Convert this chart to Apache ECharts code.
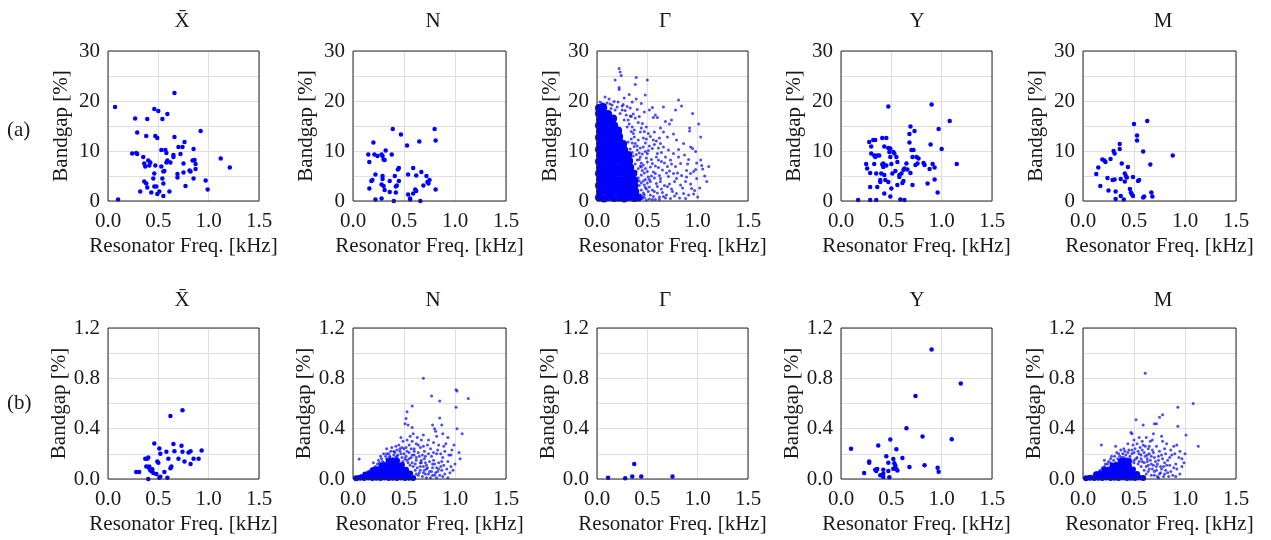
<!DOCTYPE html>
<html>
<head>
<meta charset="utf-8">
<script src="https://cdn.jsdelivr.net/npm/echarts@6/dist/echarts.min.js"></script>
<style>html,body{margin:0;padding:0;background:#fff}#c{width:1271px;height:540px}</style>
</head>
<body>
<div id="c"></div>
<script>
// ---------- labels ----------
const panelTitles = ['X\u0304', 'N', '\u0393', 'Y', 'M'];
const rowLabels = ['(a)', '(b)'];
const xName = 'Resonator Freq. [kHz]';
const yName = 'Bandgap [%]';
const xTickLabels = ['0.0', '0.5', '1.0', '1.5'];
const yTickLabelsA = ['0', '10', '20', '30'];
const yTickLabelsB = ['0.0', '0.4', '0.8', '1.2'];

// ---------- row (a) data: [freq kHz, bandgap %] ----------
const a_Xbar = [[0.07,18.8],[0.10,0.3],[0.27,16.5],[0.29,13.7],[0.24,9.5],[0.28,9.6],[0.29,9.4],[0.39,16.4],[0.38,13.0],[0.46,18.4],[0.50,18.0],[0.47,13.0],[0.49,12.6],[0.54,16.4],[0.59,17.4],[0.66,21.6],[0.66,12.8],[0.92,14.0],[0.35,8.8],[0.36,7.5],[0.37,6.9],[0.40,8.1],[0.42,7.7],[0.41,7.1],[0.47,7.1],[0.46,5.5],[0.45,4.5],[0.36,3.9],[0.38,3.5],[0.39,2.7],[0.32,1.9],[0.43,1.7],[0.46,2.9],[0.48,2.9],[0.49,1.4],[0.51,1.9],[0.55,1.0],[0.61,1.9],[0.55,3.5],[0.54,4.5],[0.55,5.9],[0.56,6.0],[0.53,6.9],[0.53,10.2],[0.57,10.2],[0.58,9.6],[0.59,8.1],[0.58,7.7],[0.62,7.7],[0.65,9.2],[0.65,8.8],[0.70,10.8],[0.74,10.8],[0.76,11.8],[0.72,9.4],[0.69,5.4],[0.69,4.7],[0.75,7.5],[0.75,5.7],[0.77,3.0],[0.82,5.9],[0.81,6.1],[0.85,10.4],[0.84,8.1],[0.86,8.2],[0.87,7.4],[0.87,6.4],[0.85,4.5],[0.97,4.1],[0.99,2.3],[1.12,8.5],[1.21,6.7]];

const a_N = [[0.15,9.3],[0.16,7.8],[0.16,2.5],[0.18,4.0],[0.19,4.2],[0.20,11.7],[0.21,9.3],[0.22,5.3],[0.22,0.3],[0.24,9.0],[0.28,9.3],[0.29,9.0],[0.28,0.5],[0.29,5.0],[0.29,4.4],[0.28,3.3],[0.30,3.0],[0.30,8.3],[0.31,8.2],[0.32,10.1],[0.31,2.2],[0.36,4.0],[0.36,1.8],[0.38,9.3],[0.39,14.4],[0.40,0.0],[0.41,5.0],[0.42,2.9],[0.42,1.7],[0.43,3.1],[0.44,6.3],[0.45,6.6],[0.45,4.0],[0.47,13.3],[0.53,11.1],[0.54,5.3],[0.54,1.3],[0.56,0.5],[0.56,0.3],[0.59,6.6],[0.59,1.5],[0.61,2.3],[0.62,2.0],[0.62,5.1],[0.65,11.9],[0.66,0.0],[0.67,5.8],[0.69,3.1],[0.72,5.0],[0.74,3.5],[0.75,4.2],[0.73,3.8],[0.80,14.4],[0.81,12.1],[0.81,2.3]];

const a_Gamma_core = [[0.02,0.7],[0.07,0.5],[0.12,0.8],[0.17,0.6],[0.22,0.7],[0.27,0.5],[0.32,0.8],[0.37,0.6],[0.41,0.7],
[0.03,1.9],[0.08,2.0],[0.13,1.8],[0.18,2.1],[0.23,1.9],[0.28,1.8],[0.33,2.0],[0.38,1.9],
[0.02,3.1],[0.07,3.2],[0.12,3.0],[0.17,3.1],[0.22,3.3],[0.27,3.0],[0.32,3.2],[0.37,3.1],
[0.03,4.3],[0.08,4.2],[0.13,4.4],[0.18,4.3],[0.23,4.2],[0.28,4.4],[0.33,4.3],[0.37,4.1],
[0.02,5.5],[0.07,5.6],[0.12,5.4],[0.17,5.5],[0.22,5.7],[0.27,5.4],[0.32,5.6],[0.36,5.5],
[0.03,6.7],[0.08,6.6],[0.13,6.8],[0.18,6.7],[0.23,6.6],[0.28,6.8],[0.33,6.7],
[0.02,7.9],[0.07,8.0],[0.12,7.8],[0.17,7.9],[0.22,8.1],[0.27,7.8],[0.32,8.0],
[0.03,9.1],[0.08,9.2],[0.13,9.0],[0.18,9.1],[0.23,9.3],[0.28,9.0],[0.31,9.2],
[0.02,10.3],[0.07,10.4],[0.12,10.2],[0.17,10.3],[0.22,10.5],[0.27,10.2],
[0.03,11.5],[0.08,11.6],[0.13,11.4],[0.18,11.5],[0.23,11.7],[0.26,11.4],
[0.02,12.7],[0.07,12.8],[0.12,12.6],[0.17,12.7],[0.22,12.9],
[0.03,13.9],[0.08,14.0],[0.13,13.8],[0.18,13.9],[0.21,14.1],
[0.02,15.1],[0.07,15.2],[0.12,15.0],[0.17,15.1],
[0.03,16.3],[0.08,16.4],[0.13,16.2],[0.16,16.5],
[0.02,17.5],[0.07,17.6],[0.11,17.4],
[0.02,18.6],[0.06,18.8]];

const a_Gamma = [[0.22,26.5],[0.24,25.1],[0.23,25.8],[0.18,24.2],[0.39,24.7],[0.38,23.3],[0.50,24.2],[0.22,22.7],[0.22,22.3],[0.27,20.6],[0.32,21.3],[0.48,21.2],[0.35,19.8],[0.39,20.4],[0.44,19.5],[0.55,18.7],[0.66,18.8],[0.81,20.2],[0.84,19.0],[0.78,18.2],[0.95,17.5],[1.01,15.4],[1.03,12.8],[0.92,14.6],[0.92,14.0],[0.74,16.2],[0.72,15.4],[0.58,17.2],[0.56,16.7],[0.60,16.7],[0.47,17.8],[0.52,18.2],[0.63,14.6],[0.66,13.8],[0.70,12.8],[0.76,13.4],[0.79,12.2],[0.86,11.5],[0.93,10.8],[0.95,10.5],[1.03,8.2],[1.04,7.1],[1.11,6.9],[1.09,3.9],[0.99,4.5],[0.96,5.9],[0.98,6.3],[0.89,6.1],[0.93,5.5],[0.88,3.9],[0.94,2.5],[0.91,1.2],[0.96,1.4],[0.86,1.5],[0.79,1.5],[0.75,1.9],[0.83,3.2],[0.79,4.5],[0.76,5.5],[0.78,6.9],[0.83,7.5],[0.81,8.8],[0.76,9.5],[0.73,8.2],[0.71,10.2],[0.66,10.8],[0.63,11.5],[0.68,8.8],[0.70,6.9],[0.71,4.9],[0.70,2.9],[0.66,0.9],[0.73,0.5],[0.63,3.9],[0.65,6.2],[0.61,8.2],[0.60,9.5],[0.56,12.2],[0.55,10.5],[0.51,13.5],[0.49,14.8],[0.45,15.5],[0.43,13.8],[0.41,12.2],[0.46,10.8],[0.50,9.5],[0.55,7.5],[0.58,5.5],[0.60,2.9],[0.56,0.9],[0.51,1.9],[0.53,3.9],[0.50,5.9],[0.46,7.2],[0.43,8.8],[0.40,10.2],[0.38,11.5],[0.40,8.2],[0.44,5.2],[0.47,3.2],[0.43,1.2],[0.39,2.9],[0.41,6.5],[0.36,13.5],[0.35,14.8],[0.31,16.2],[0.29,17.2],[0.25,18.2],[0.20,18.8],[0.15,19.2],[0.10,19.6],[0.05,19.5],[0.03,19.8],[0.07,19.0],[0.13,19.4],[0.18,18.2],[0.23,17.5],[0.27,16.2],[0.30,14.8],[0.52,0.4],[0.55,2.2],[0.57,4.6],[0.53,6.8],[0.49,8.6],[0.60,1.6],[0.62,5.1],[0.64,2.4],[0.68,0.6],[0.72,3.4],[0.77,1.0],[0.82,0.6],[0.85,2.6],[0.89,4.8],[0.91,8.3],[0.98,9.9],[1.05,6.4],[0.97,2.1],[1.00,0.8],[0.34,12.4],[0.37,10.9],[0.35,9.7],[0.42,9.6],[0.45,6.1],[0.48,4.3],[0.52,2.8],[0.45,0.5],[0.49,0.2],[0.58,0.3],[0.62,0.8],[0.54,5.0],[0.58,7.0],[0.48,11.6],[0.52,11.0],[0.57,13.8],[0.62,12.6],[0.68,15.9],[0.42,16.9],[0.40,18.3],[0.33,18.6],[0.26,19.3],[0.12,20.4],[0.08,20.8],[0.46,1.6],[0.47,0.7],[0.44,3.6],[0.49,2.4],[0.51,4.8],[0.48,6.5],[0.44,7.6],[0.42,4.0],[0.45,9.4],
[0.31,11.8],[0.33,10.4],[0.36,9.0],[0.38,7.4],[0.39,5.9],[0.41,4.6],[0.42,3.1],[0.44,2.2],[0.45,0.9],[0.47,1.3],[0.48,2.7],[0.46,4.0],[0.44,6.8],[0.42,8.3],[0.40,11.0],[0.37,12.8],[0.34,13.9],[0.32,15.4],[0.35,11.6],[0.39,9.3],[0.43,7.0],[0.47,5.6],[0.50,3.6],[0.53,1.2],[0.55,0.3],[0.57,1.9],[0.59,3.5],[0.56,5.8],[0.54,8.3],[0.51,10.1],[0.49,12.4],[0.47,13.9],[0.44,14.6],[0.41,15.7],[0.38,16.6],[0.36,17.4],[0.34,16.9],[0.30,18.9],[0.28,18.1],[0.53,12.9],[0.57,11.3],[0.59,8.8],[0.61,6.7],[0.63,4.5],[0.65,1.7],[0.67,3.1],[0.69,5.6],[0.67,7.6],[0.64,9.7],[0.61,10.6],[0.59,12.0],[0.64,7.9],[0.62,0.3],[0.69,1.2],[0.74,2.4],[0.72,6.0],[0.74,7.4],[0.77,3.9],[0.80,5.6],[0.84,5.1],[0.81,10.3],[0.87,9.2],[0.90,7.4],[0.88,0.5],[0.93,3.4],[1.02,2.6],[1.07,5.0],[0.99,7.6],[0.46,12.6],[0.43,10.6],[0.50,7.8],[0.52,4.3],[0.48,9.9],[0.37,14.2],[0.33,17.0],[0.25,19.0],[0.21,19.8],[0.17,19.9],[0.14,18.5],[0.09,18.6],[0.04,18.8]];

const a_Y = [[0.17,0.2],[0.25,7.4],[0.26,6.5],[0.28,11.8],[0.29,5.6],[0.29,2.8],[0.29,0.2],[0.30,10.9],[0.30,9.5],[0.32,12.2],[0.34,12.2],[0.33,9.1],[0.34,8.8],[0.33,7.4],[0.35,5.5],[0.35,0.2],[0.36,2.8],[0.36,9.1],[0.38,9.1],[0.39,4.2],[0.39,3.8],[0.40,5.5],[0.41,7.3],[0.42,7.5],[0.41,12.6],[0.43,10.9],[0.42,6.8],[0.43,5.2],[0.44,4.2],[0.43,1.5],[0.45,12.6],[0.45,7.1],[0.47,3.8],[0.47,18.9],[0.47,10.6],[0.48,9.8],[0.49,8.8],[0.49,10.5],[0.50,7.4],[0.49,0.9],[0.50,2.5],[0.51,5.5],[0.52,9.8],[0.53,9.5],[0.54,6.0],[0.55,8.8],[0.56,3.2],[0.56,7.8],[0.58,5.2],[0.58,4.8],[0.59,0.3],[0.60,5.5],[0.61,3.6],[0.62,6.2],[0.62,4.0],[0.63,6.5],[0.63,0.2],[0.65,7.5],[0.66,6.3],[0.68,13.4],[0.68,11.7],[0.69,14.9],[0.69,5.6],[0.70,10.2],[0.71,8.8],[0.71,3.2],[0.72,10.2],[0.73,14.0],[0.74,7.2],[0.75,8.8],[0.76,7.5],[0.77,8.5],[0.82,7.6],[0.83,7.2],[0.86,3.5],[0.88,6.4],[0.89,11.3],[0.90,19.3],[0.91,7.4],[0.93,6.7],[0.93,4.3],[0.96,1.7],[0.97,14.4],[1.00,10.4],[1.08,16.0],[1.15,7.4]];

const a_M = [[0.13,5.4],[0.15,6.7],[0.17,3.0],[0.19,8.3],[0.21,8.1],[0.22,7.8],[0.24,4.6],[0.25,2.1],[0.27,8.4],[0.29,4.2],[0.31,4.3],[0.30,10.0],[0.31,9.5],[0.32,1.9],[0.32,0.4],[0.36,10.4],[0.36,11.4],[0.37,1.0],[0.37,4.4],[0.38,7.5],[0.40,0.3],[0.41,3.9],[0.41,5.5],[0.42,5.0],[0.43,4.7],[0.44,6.8],[0.46,2.4],[0.47,1.7],[0.48,1.3],[0.49,4.8],[0.50,15.4],[0.49,1.0],[0.53,13.1],[0.53,12.1],[0.54,4.0],[0.55,4.2],[0.59,9.9],[0.59,0.7],[0.60,0.9],[0.63,16.0],[0.66,7.3],[0.67,1.7],[0.68,0.9],[0.88,9.1]];

// ---------- row (b) data ----------
const b_Xbar = [[0.28,0.056],[0.31,0.056],[0.37,0.16],[0.39,0.16],[0.40,0.17],[0.38,0.10],[0.41,0.10],[0.41,0.085],[0.42,0.07],[0.43,0.063],[0.44,0.077],[0.40,0.0],[0.45,0.048],[0.46,0.283],[0.48,0.04],[0.49,0.14],[0.50,0.13],[0.51,0.243],[0.52,0.20],[0.51,0.01],[0.52,0.018],[0.56,0.056],[0.58,0.217],[0.59,0.01],[0.60,0.16],[0.62,0.50],[0.62,0.085],[0.63,0.10],[0.65,0.278],[0.66,0.22],[0.70,0.16],[0.73,0.264],[0.74,0.217],[0.74,0.547],[0.76,0.14],[0.80,0.21],[0.82,0.22],[0.82,0.12],[0.85,0.16],[0.90,0.16],[0.93,0.227]];

const b_N_core = [[0.03,0.006],[0.07,0.01],[0.11,0.007],[0.15,0.011],[0.19,0.008],[0.23,0.01],[0.27,0.007],[0.31,0.011],[0.35,0.008],[0.39,0.01],[0.43,0.007],[0.47,0.011],[0.51,0.008],[0.55,0.01],[0.59,0.007],
[0.12,0.036],[0.16,0.041],[0.20,0.039],[0.24,0.043],[0.28,0.039],[0.32,0.042],[0.36,0.040],[0.40,0.044],[0.44,0.039],[0.48,0.042],[0.52,0.040],[0.56,0.043],
[0.20,0.072],[0.24,0.077],[0.28,0.075],[0.32,0.078],[0.36,0.074],[0.40,0.077],[0.44,0.075],[0.48,0.078],[0.52,0.074],
[0.28,0.108],[0.32,0.112],[0.36,0.109],[0.40,0.113],[0.44,0.110],[0.48,0.112],
[0.35,0.143],[0.39,0.148],[0.43,0.144]];

const b_N = [[0.06,0.158],[0.69,0.80],[0.77,0.66],[0.85,0.62],[1.01,0.71],[1.02,0.70],[1.13,0.64],[1.01,0.57],[0.58,0.58],[0.53,0.535],[0.52,0.48],[0.51,0.44],[0.54,0.43],[0.58,0.41],[0.85,0.485],[0.87,0.43],[0.78,0.43],[0.80,0.40],[0.81,0.38],[1.02,0.40],[1.07,0.36],[0.97,0.23],[0.96,0.19],[1.05,0.16],[0.91,0.28],[0.89,0.26],[0.84,0.27],[0.74,0.31],[0.69,0.35],[0.59,0.36],[0.53,0.31],[0.48,0.25],[0.43,0.23],[0.40,0.19],[0.33,0.24],[0.30,0.20],[0.27,0.18],[0.82,0.20],[0.77,0.18],[0.93,0.14],[0.96,0.10],[0.87,0.07],[0.98,0.07],[0.28,0.16],[0.32,0.18],[0.35,0.20],[0.37,0.22],[0.41,0.21],[0.44,0.19],[0.46,0.22],[0.50,0.20],[0.52,0.18],[0.55,0.21],[0.57,0.17],[0.60,0.19],[0.62,0.15],[0.65,0.18],[0.67,0.13],[0.70,0.16],[0.72,0.11],[0.75,0.14],[0.78,0.09],[0.80,0.12],[0.83,0.06],[0.86,0.10],[0.90,0.04],[0.92,0.08],[0.65,0.05],[0.68,0.02],[0.70,0.07],[0.74,0.04],[0.76,0.01],[0.80,0.03],[0.63,0.09],[0.66,0.25],[0.70,0.22],[0.73,0.27],[0.76,0.24],[0.62,0.28],[0.58,0.30],[0.55,0.27],[0.49,0.30],[0.45,0.27],[0.42,0.26],[0.38,0.25],[0.60,0.24],[0.64,0.21],[0.68,0.19],[0.71,0.13],[0.79,0.15],[0.84,0.13],[0.88,0.17],[0.90,0.22],[0.94,0.19],[0.99,0.27],[0.93,0.33],[0.88,0.36],[0.82,0.34],[0.79,0.29],[0.67,0.31],[0.63,0.33],[0.56,0.34],[0.47,0.33],[0.44,0.16],[0.48,0.17],[0.53,0.15],[0.58,0.13],[0.61,0.12],[0.66,0.10],[0.69,0.05],[0.72,0.08],[0.77,0.06],[0.82,0.09],[0.85,0.03],[0.89,0.11],[0.95,0.05],[1.00,0.12],[1.04,0.21],[0.24,0.12],[0.21,0.09],[0.17,0.07],[0.14,0.05],[0.12,0.04],[0.08,0.03],[0.05,0.02],[0.20,0.13],[0.25,0.15],
[0.30,0.13],[0.33,0.16],[0.36,0.17],[0.39,0.16],[0.42,0.17],[0.45,0.15],[0.49,0.14],[0.51,0.16],[0.54,0.13],[0.56,0.11],[0.59,0.10],[0.61,0.07],[0.64,0.03],[0.66,0.07],[0.62,0.04],[0.67,0.15],[0.69,0.10],[0.71,0.04],[0.73,0.09],[0.75,0.06],[0.78,0.12],[0.81,0.05],[0.84,0.08],[0.87,0.14],[0.86,0.20],[0.83,0.23],[0.79,0.21],[0.74,0.20],[0.71,0.18],[0.69,0.26],[0.64,0.27],[0.60,0.22],[0.57,0.24],[0.53,0.22],[0.50,0.24],[0.47,0.20],[0.43,0.18],[0.40,0.22],[0.36,0.18],[0.33,0.20],[0.29,0.14],[0.26,0.13],[0.22,0.10],[0.18,0.08],[0.15,0.06],[0.10,0.03],[0.72,0.01],[0.78,0.03],[0.82,0.01],[0.88,0.02],[0.93,0.01],[0.66,0.13],[0.62,0.17],[0.58,0.19],[0.55,0.16],[0.52,0.25],[0.46,0.24]];

const b_Gamma = [[0.11,0.01],[0.28,0.005],[0.35,0.02],[0.37,0.12],[0.44,0.02],[0.75,0.02]];

const b_Y = [[0.10,0.24],[0.23,0.047],[0.28,0.13],[0.28,0.14],[0.34,0.074],[0.35,0.063],[0.36,0.08],[0.37,0.266],[0.39,0.03],[0.42,0.074],[0.42,0.042],[0.42,0.016],[0.45,0.18],[0.47,0.13],[0.47,0.063],[0.48,0.013],[0.49,0.313],[0.52,0.082],[0.52,0.158],[0.53,0.126],[0.54,0.105],[0.55,0.237],[0.55,0.079],[0.56,0.068],[0.61,0.166],[0.65,0.403],[0.68,0.095],[0.74,0.66],[0.81,0.337],[0.83,0.11],[0.90,1.03],[0.96,0.09],[0.97,0.058],[1.10,0.316],[1.19,0.758]];

const b_M_core = [[0.03,0.006],[0.07,0.009],[0.11,0.007],[0.15,0.01],[0.19,0.008],[0.23,0.011],[0.27,0.007],[0.31,0.01],[0.35,0.008],[0.39,0.011],[0.43,0.007],[0.47,0.01],[0.51,0.008],[0.55,0.011],[0.59,0.007],
[0.13,0.037],[0.17,0.041],[0.21,0.039],[0.25,0.042],[0.29,0.04],[0.33,0.043],[0.37,0.039],[0.41,0.042],[0.45,0.04],[0.49,0.043],[0.53,0.039],
[0.21,0.073],[0.25,0.076],[0.29,0.075],[0.33,0.077],[0.37,0.073],[0.41,0.078],[0.45,0.075],[0.49,0.076],
[0.29,0.108],[0.33,0.111],[0.37,0.109],[0.41,0.112],[0.45,0.11],
[0.37,0.143],[0.41,0.146],[0.45,0.142]];

const b_M = [[0.61,0.84],[1.08,0.60],[0.93,0.57],[0.78,0.51],[0.75,0.49],[0.52,0.47],[0.59,0.43],[0.70,0.44],[0.72,0.44],[0.93,0.42],[1.01,0.35],[0.47,0.37],[0.48,0.36],[0.69,0.36],[0.18,0.27],[0.32,0.26],[1.13,0.26],[0.92,0.27],[0.95,0.22],[0.97,0.16],[0.99,0.13],[0.92,0.08],[0.77,0.34],[0.82,0.28],[0.89,0.26],[0.58,0.30],[0.59,0.27],[0.66,0.30],[0.53,0.28],[0.45,0.23],[0.40,0.24],[0.21,0.15],[0.27,0.16],[0.31,0.18],[0.35,0.2],[0.38,0.17],[0.42,0.19],[0.46,0.18],[0.5,0.21],[0.53,0.17],[0.55,0.2],[0.57,0.16],[0.61,0.18],[0.63,0.14],[0.65,0.2],[0.67,0.12],[0.7,0.17],[0.72,0.1],[0.74,0.15],[0.77,0.08],[0.8,0.13],[0.83,0.05],[0.85,0.11],[0.88,0.03],[0.91,0.12],[0.64,0.06],[0.67,0.03],[0.7,0.06],[0.73,0.02],[0.76,0.05],[0.79,0.02],[0.62,0.1],[0.64,0.24],[0.68,0.23],[0.72,0.26],[0.75,0.22],[0.61,0.26],[0.56,0.25],[0.49,0.27],[0.44,0.28],[0.41,0.22],[0.37,0.23],[0.6,0.21],[0.63,0.19],[0.67,0.18],[0.71,0.14],[0.78,0.16],[0.83,0.15],[0.87,0.19],[0.9,0.2],[0.94,0.17],[0.97,0.1],[0.86,0.23],[0.8,0.24],[0.78,0.3],[0.68,0.31],[0.62,0.33],[0.55,0.33],[0.5,0.31],[0.46,0.16],[0.5,0.15],[0.55,0.14],[0.6,0.13],[0.64,0.11],[0.68,0.08],[0.72,0.07],[0.76,0.1],[0.81,0.07],[0.84,0.02],[0.89,0.09],[0.95,0.04],[1.0,0.2],[0.24,0.12],[0.21,0.1],[0.17,0.07],[0.14,0.05],[0.11,0.04],[0.08,0.02],[0.05,0.015],[0.27,0.13],[0.3,0.15],
[0.32,0.13],[0.34,0.16],[0.38,0.15],[0.4,0.17],[0.43,0.16],[0.47,0.14],[0.5,0.13],[0.52,0.16],[0.54,0.12],[0.57,0.1],[0.58,0.14],[0.6,0.07],[0.62,0.04],[0.65,0.08],[0.66,0.15],[0.69,0.11],[0.7,0.03],[0.73,0.12],[0.75,0.04],[0.77,0.19],[0.79,0.1],[0.82,0.11],[0.85,0.17],[0.81,0.2],[0.74,0.18],[0.69,0.21],[0.65,0.26],[0.58,0.23],[0.54,0.22],[0.51,0.24],[0.48,0.2],[0.44,0.21],[0.39,0.2],[0.36,0.18],[0.33,0.21],[0.28,0.18],[0.25,0.14],[0.22,0.12],[0.19,0.09],[0.16,0.06],[0.13,0.05],[0.74,0.01],[0.8,0.04],[0.86,0.06],[0.91,0.02],[0.63,0.16],[0.57,0.19],[0.48,0.23]];

// ---------- assemble ----------
const panels = [
  {row:0, col:0, sets:[{d:a_Xbar, s:4.5, o:1}]},
  {row:0, col:1, sets:[{d:a_N, s:4.5, o:1}]},
  {row:0, col:2, sets:[{d:a_Gamma_core, s:8, o:1},{d:a_Gamma, s:3, o:0.7}]},
  {row:0, col:3, sets:[{d:a_Y, s:4.5, o:1}]},
  {row:0, col:4, sets:[{d:a_M, s:4.5, o:1}]},
  {row:1, col:0, sets:[{d:b_Xbar, s:4.5, o:1}]},
  {row:1, col:1, sets:[{d:b_N_core, s:6, o:1},{d:b_N, s:3, o:0.7}]},
  {row:1, col:2, sets:[{d:b_Gamma, s:4.5, o:1}]},
  {row:1, col:3, sets:[{d:b_Y, s:4.5, o:1}]},
  {row:1, col:4, sets:[{d:b_M_core, s:6, o:1},{d:b_M, s:3, o:0.7}]}
];
const colPos = [{l:108,w:151,tx:182},{l:353,w:153,tx:433},{l:597,w:151,tx:665},{l:841,w:151,tx:917},{l:1083,w:153,tx:1163}];
const rowPos = [{t:51,h:150,titleTop:6,labelTop:115},{t:328,h:151,titleTop:285,labelTop:388}];
const FONT = "'Liberation Serif','Times New Roman',serif";
const TXT = '#1a1a1a';
const FS = 21;

const grid = [], xAxis = [], yAxis = [], series = [], title = [];
panels.forEach((p, i) => {
  const c = colPos[p.col], r = rowPos[p.row];
  grid.push({left:c.l, top:r.t, width:c.w, height:r.h, show:true, z:10, borderColor:'#262626', borderWidth:1, backgroundColor:'transparent'});
  xAxis.push({
    gridIndex:i, type:'value', min:0, max:1.5, interval:0.5,
    name:xName, nameLocation:'middle', nameGap:35,
    nameTextStyle:{fontFamily:FONT, fontSize:FS, color:TXT},
    axisLine:{show:false}, axisTick:{show:false},
    axisLabel:{margin:10, fontFamily:FONT, fontSize:FS, color:TXT,
      formatter:v => { const s = v.toFixed(1); return xTickLabels.includes(s) ? s : ''; }},
    splitLine:{show:true, lineStyle:{color:'#dfdfdf', width:1}}
  });
  const labs = p.row === 0 ? yTickLabelsA : yTickLabelsB;
  yAxis.push({
    gridIndex:i, type:'value', min:0, max:p.row === 0 ? 30 : 1.2, interval:p.row === 0 ? 5 : 0.2,
    name:yName, nameLocation:'middle', nameGap:36, nameRotate:90,
    nameTextStyle:{fontFamily:FONT, fontSize:FS, color:TXT},
    axisLine:{show:false}, axisTick:{show:false},
    axisLabel:{margin:8, fontFamily:FONT, fontSize:FS, color:TXT,
      formatter:v => { const s = p.row === 0 ? String(Math.round(v)) : v.toFixed(1); return labs.includes(s) ? s : ''; }},
    splitLine:{show:true, lineStyle:{color:'#dfdfdf', width:1}}
  });
  p.sets.forEach(st => {
    series.push({type:'scatter', xAxisIndex:i, yAxisIndex:i, data:st.d, symbol:'circle', symbolSize:st.s,
      clip:false, itemStyle:{color:'#0000ff', opacity:st.o}, silent:true, animation:false});
  });
  title.push({text:panelTitles[p.col], left:c.tx - 5, top:r.titleTop, textAlign:'center',
    textStyle:{fontFamily:FONT, fontSize:FS, fontWeight:'normal', color:TXT}});
});
rowLabels.forEach((t, k) => {
  title.push({text:t, left:2, top:rowPos[k].labelTop,
    textStyle:{fontFamily:FONT, fontSize:FS, fontWeight:'normal', color:TXT}});
});

const chart = echarts.init(document.getElementById('c'), null, {renderer:'canvas'});
chart.setOption({animation:false, backgroundColor:'#fff', title, grid, xAxis, yAxis, series});
</script>
</body>
</html>
